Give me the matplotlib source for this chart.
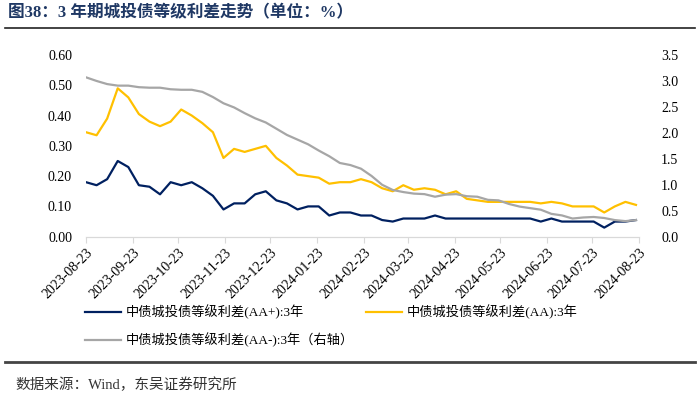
import matplotlib
matplotlib.use('Agg')
import matplotlib.pyplot as plt
import matplotlib.dates as mdates
import numpy as np
import pandas as pd

# --------------[DATA]----------------
# weekly readings, 2023-08-23 .. 2024-08-21
dates = pd.date_range('2023-08-23', periods=53, freq='7D')

aa_plus = [0.18, 0.17, 0.19, 0.25, 0.23, 0.17, 0.165, 0.14, 0.18, 0.17,
           0.18, 0.16, 0.135, 0.09, 0.11, 0.11, 0.14, 0.15, 0.12, 0.11,
           0.09, 0.10, 0.10, 0.07, 0.08, 0.08, 0.07, 0.07, 0.055, 0.05,
           0.06, 0.06, 0.06, 0.07, 0.06, 0.06, 0.06, 0.06, 0.06, 0.06,
           0.06, 0.06, 0.06, 0.05, 0.06, 0.05, 0.05, 0.05, 0.05, 0.03,
           0.05, 0.05, 0.055]

aa = [0.345, 0.335, 0.39, 0.49, 0.46, 0.405, 0.38, 0.365, 0.38, 0.42,
      0.40, 0.375, 0.345, 0.26, 0.29, 0.28, 0.29, 0.30, 0.26, 0.235,
      0.205, 0.20, 0.195, 0.175, 0.18, 0.18, 0.19, 0.18, 0.16, 0.15,
      0.17, 0.155, 0.16, 0.155, 0.14, 0.15, 0.125, 0.12, 0.115, 0.115,
      0.115, 0.115, 0.115, 0.11, 0.115, 0.11, 0.10, 0.10, 0.10, 0.08,
      0.10, 0.115, 0.105]

aa_minus = [3.07, 3.00, 2.94, 2.91, 2.91, 2.88, 2.87, 2.87, 2.84, 2.83,
            2.83, 2.79, 2.69, 2.57, 2.49, 2.38, 2.28, 2.20, 2.08, 1.96,
            1.87, 1.78, 1.66, 1.55, 1.42, 1.38, 1.31, 1.17, 1.00, 0.90,
            0.86, 0.83, 0.82, 0.77, 0.81, 0.82, 0.78, 0.77, 0.71, 0.70,
            0.63, 0.58, 0.55, 0.52, 0.44, 0.41, 0.35, 0.37, 0.38, 0.36,
            0.32, 0.30, 0.32]

labels = ['中债城投债等级利差(AA+):3年', '中债城投债等级利差(AA):3年',
          '中债城投债等级利差(AA-):3年（右轴）']

title = '图38：3 年期城投债等级利差走势（单位：%）'
source = '数据来源：Wind，东吴证券研究所'

# --------------[PLOT]----------------
plt.rcParams['font.family'] = ['Liberation Serif', 'Noto Sans CJK SC']

fig = plt.figure(figsize=(7, 4.05), dpi=100)
ax = fig.add_axes([86 / 700, 1 - 236.7 / 405, (639 - 86) / 700, (236.7 - 55) / 405])
ax2 = ax.twinx()

l1, = ax.plot(dates, aa_plus, color='#002060', lw=1.6)
l2, = ax.plot(dates, aa, color='#FFC000', lw=1.6)
l3, = ax2.plot(dates, aa_minus, color='#A6A6A6', lw=1.6)

ax.set_ylim(0, 0.6)
ax.set_yticks(np.arange(0, 0.61, 0.1))
ax.yaxis.set_major_formatter(matplotlib.ticker.FormatStrFormatter('%.2f'))
ax2.set_ylim(0, 3.5)
ax2.set_yticks(np.arange(0, 3.51, 0.5))
ax2.yaxis.set_major_formatter(matplotlib.ticker.FormatStrFormatter('%.1f'))

ax.set_xlim(pd.Timestamp('2023-08-23'), pd.Timestamp('2024-08-23'))
ticks = pd.date_range('2023-08-23', '2024-08-23', freq=pd.DateOffset(months=1))
ax.set_xticks(ticks)
ax.xaxis.set_major_formatter(mdates.DateFormatter('%Y-%m-%d'))
for t in ax.get_xticklabels():
    t.set_rotation(45)
    t.set_ha('right')
    t.set_rotation_mode('anchor')

for a in (ax, ax2):
    for s in ['top', 'left', 'right']:
        a.spines[s].set_visible(False)
    a.spines['bottom'].set_color('#D9D9D9')
    a.tick_params(axis='y', length=0, labelsize=10, colors='#000000', pad=10)
ax.tick_params(axis='x', length=4, color='#D9D9D9', labelsize=10, pad=3)
ax2.tick_params(axis='y', pad=16)

fig.legend([l1, l3, l2], [labels[0], labels[2], labels[1]], ncol=2,
           loc='upper left', bbox_to_anchor=(73 / 700, 1 - 293 / 405),
           frameon=False, fontsize=9.5, handlelength=2.7, handletextpad=0.4,
           columnspacing=0.9, labelspacing=1.0)

# title + rules
fig.text(8 / 700, 1 - 13 / 405, title, fontsize=12, fontweight='bold',
         color='#1F3864', va='center', family=['Liberation Serif', 'Noto Sans CJK SC'])
fig.add_artist(plt.Line2D([5 / 700, 695 / 700], [1 - 28 / 405] * 2, color='#222222', lw=1.2))
fig.add_artist(plt.Line2D([5 / 700, 695 / 700], [1 - 362 / 405] * 2, color='#444444', lw=2))
fig.text(15 / 700, 1 - 385 / 405, source, fontsize=10.5, color='#333333', va='center')

fig.savefig('out.png', dpi=100)
